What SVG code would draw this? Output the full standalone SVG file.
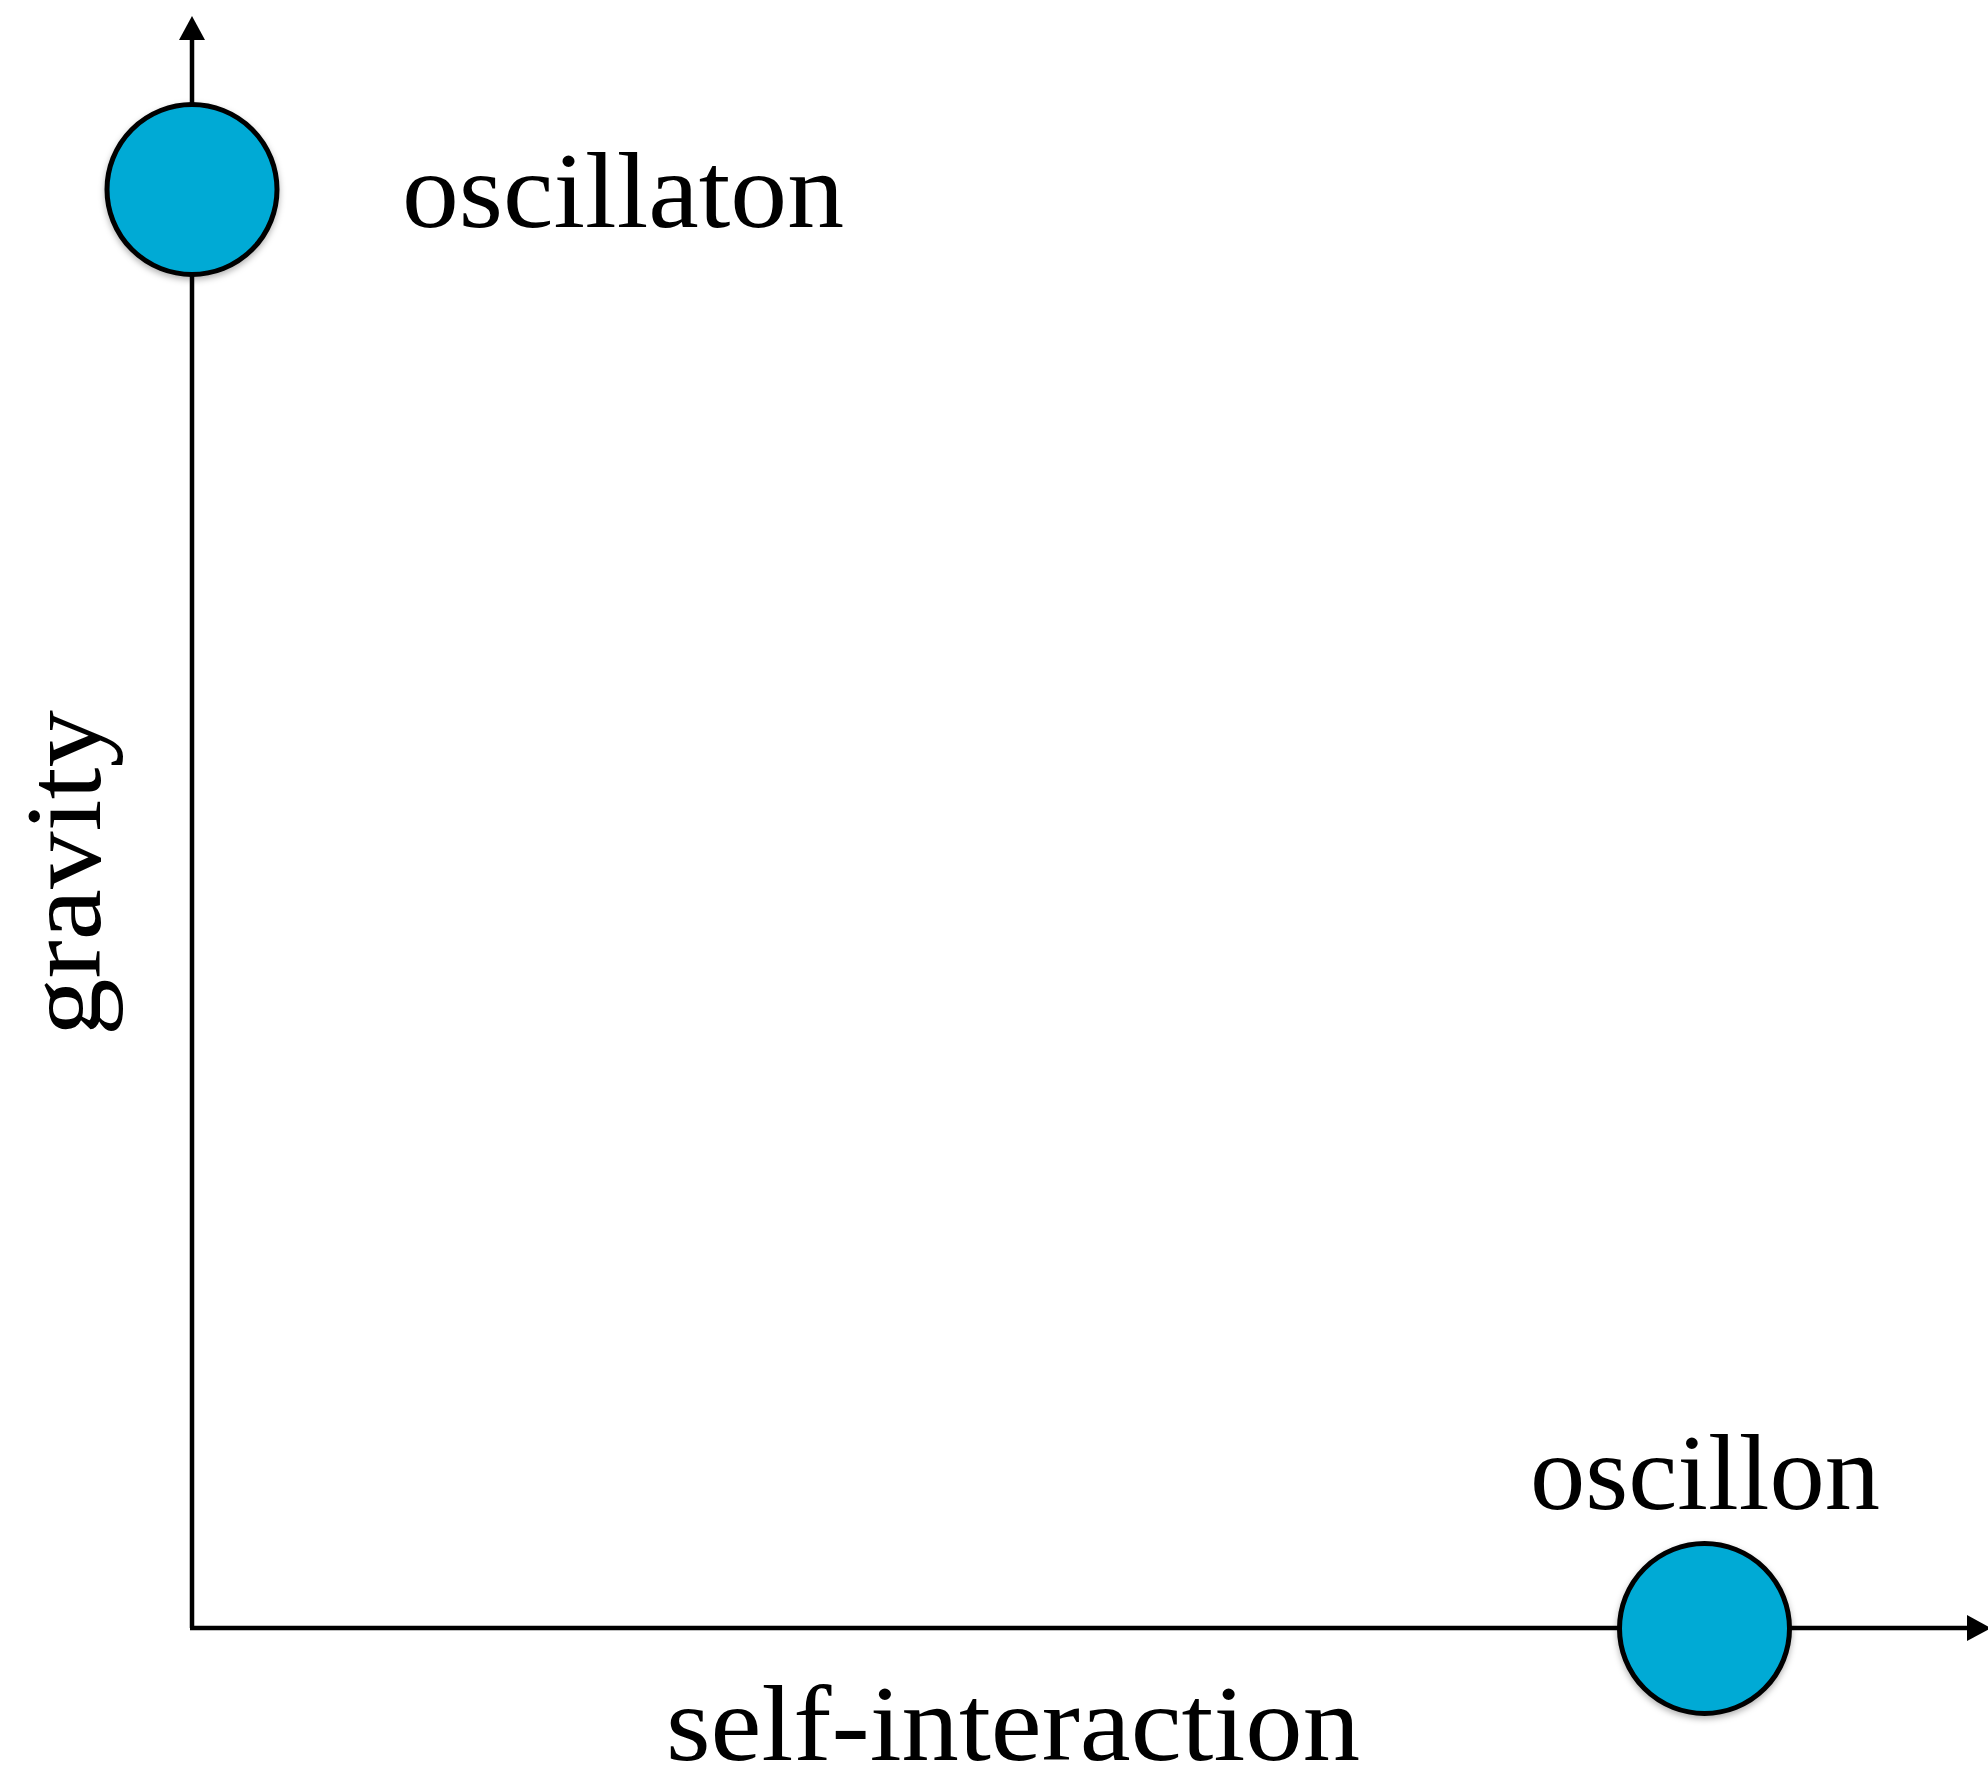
<svg xmlns="http://www.w3.org/2000/svg" width="1988" height="1773" viewBox="0 0 1988 1773">
  <style>
    .axis { stroke: #000; stroke-width: 4.5; fill: none; }
    .node { fill: #00AAD5; stroke: #000; stroke-width: 5; filter: url(#shadow); }
    .lbl { font-family: "Liberation Serif", "DejaVu Serif", serif; font-size: 108px; fill: #000; }
  </style>
  <defs>
    <marker id="arrow" viewBox="0 0 24 26" refX="1" refY="13" markerWidth="24" markerHeight="26" markerUnits="userSpaceOnUse" orient="auto">
      <path d="M0,0 L24,13 L0,26 Z" fill="#000"/>
    </marker>
    <filter id="shadow" x="-20%" y="-20%" width="140%" height="150%">
      <feDropShadow dx="0" dy="3" stdDeviation="3" flood-color="#000" flood-opacity="0.3"/>
    </filter>
  </defs>
  <rect width="1988" height="1773" fill="#fff"/>
  <g id="connectors">
    <line class="axis" x1="192" y1="1628" x2="192" y2="39" marker-end="url(#arrow)"/>
    <line class="axis" x1="190" y1="1628" x2="1968" y2="1628" marker-end="url(#arrow)"/>
  </g>
  <g id="axis-labels">
    <text class="lbl" x="666" y="1760" textLength="694" lengthAdjust="spacingAndGlyphs">self-interaction</text>
    <text class="lbl" transform="translate(100,1036) rotate(-90)" x="0" y="0" textLength="326" lengthAdjust="spacingAndGlyphs">gravity</text>
  </g>
  <g id="node-oscillaton">
    <circle class="node" cx="192" cy="189.5" r="85"/>
    <text class="lbl" x="402" y="227" textLength="442" lengthAdjust="spacingAndGlyphs">oscillaton</text>
  </g>
  <g id="node-oscillon">
    <circle class="node" cx="1704.5" cy="1628.5" r="85"/>
    <text class="lbl" x="1530" y="1509" textLength="350" lengthAdjust="spacingAndGlyphs">oscillon</text>
  </g>
</svg>
